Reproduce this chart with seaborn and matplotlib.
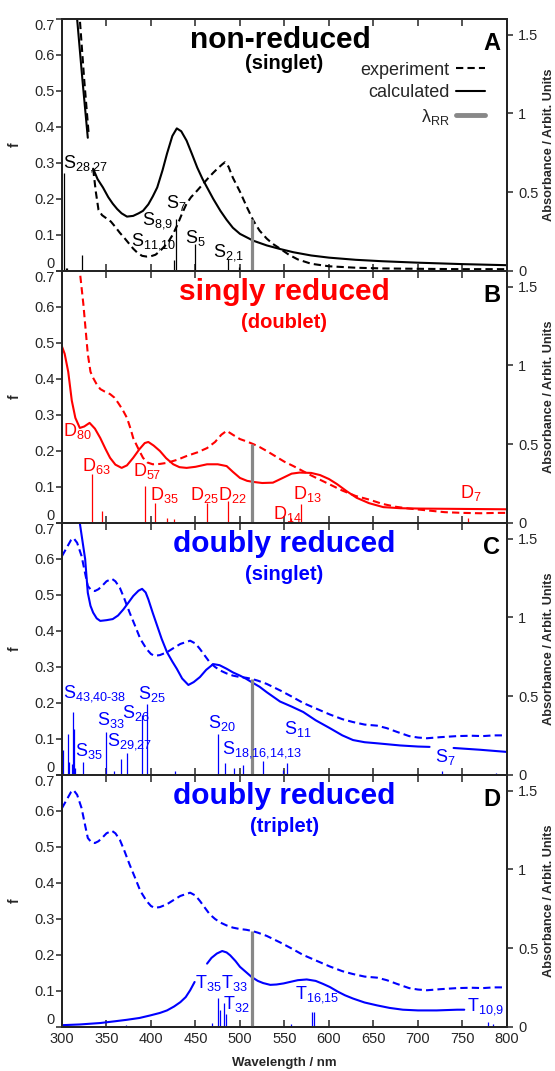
import numpy as np
import pandas as pd
import seaborn as sns
import matplotlib.pyplot as plt
from matplotlib.lines import Line2D

nan = np.nan

# ---------------- panel A : non-reduced (singlet) ----------------
a_exp_wl = [315, 320, 325, 330, nan, 335, 338, 341, 345, 350, 355, 360, 365, 370, 375, 380, 385, 390,
            395, 400, 405, 410, 415, 420, 425, 430, 435, 440, 445, 450, 455, 460, 465, 470, 475, 480,
            483, 487, 492, 500, 508, 515, 522, 530, 537, 545, 555, 565, 580, 600, 630, 660, 700, 750, 800]
a_exp_f = [0.85, 0.70, 0.53, 0.38, nan, 0.284, 0.22, 0.17, 0.155, 0.146, 0.137, 0.122, 0.106, 0.092,
           0.077, 0.062, 0.05, 0.042, 0.04, 0.041, 0.045, 0.055, 0.068, 0.083, 0.103, 0.13, 0.16, 0.187,
           0.205, 0.218, 0.232, 0.246, 0.26, 0.273, 0.285, 0.296, 0.302, 0.29, 0.259, 0.22, 0.176, 0.14,
           0.112, 0.09, 0.075, 0.062, 0.045, 0.032, 0.02, 0.013, 0.009, 0.007, 0.006, 0.005, 0.005]
a_calc_wl = [312, 317, 323, 329, nan, 335, 340, 346, 352, 357, 362, 367, 373, 380, 386, 391, 397, 402,
             407, 413, 418, 424, 429, 434, 440, 446, 452, 458, 463, 470, 478, 485, 492, 500, 515, 530,
             545, 560, 580, 600, 630, 660, 700, 750, 800]
a_calc_f = [0.85, 0.70, 0.53, 0.37, nan, 0.284, 0.255, 0.232, 0.205, 0.187, 0.172, 0.16, 0.151, 0.153,
            0.16, 0.167, 0.185, 0.207, 0.232, 0.28, 0.326, 0.375, 0.396, 0.388, 0.362, 0.325, 0.287,
            0.255, 0.232, 0.2, 0.167, 0.142, 0.12, 0.103, 0.084, 0.071, 0.061, 0.052, 0.043, 0.037,
            0.031, 0.027, 0.023, 0.019, 0.016]
a_stick_wl = [302, 304, 306, 323, 426, 428, 449, 487, 499]
a_stick_f = [0.273, 0.008, 0.008, 0.045, 0.03, 0.145, 0.075, 0.033, 0.01]
a_labels = [('S$_{28{,}27}$', 301, 0.298), ('S$_{7}$', 417, 0.19), ('S$_{8{,}9}$', 390, 0.14),
            ('S$_{11{,}10}$', 378, 0.082), ('S$_{5}$', 438, 0.092), ('S$_{2{,}1}$', 470, 0.05)]

# ---------------- panel B : singly reduced (doublet) ----------------
b_exp_wl = [318, 320, 324, 329, 332, 335, 339, 343, 348, 354, 359, 363, 368, 373, 377, 380, 386, 391,
            396, 402, 410, 418, 430, 440, 452, 463, 472, 479, 485, 492, 500, 508, 515, 522, 530, 540,
            550, 560, 570, 580, 590, 600, 615, 630, 645, 660, 675, 690, 710, 730, 750, 770, 790, 800]
b_exp_f = [0.75, 0.70, 0.608, 0.469, 0.42, 0.403, 0.385, 0.372, 0.365, 0.358, 0.348, 0.334, 0.315,
           0.292, 0.262, 0.236, 0.205, 0.181, 0.168, 0.163, 0.164, 0.167, 0.176, 0.186, 0.196, 0.208,
           0.225, 0.245, 0.256, 0.245, 0.233, 0.226, 0.219, 0.211, 0.2, 0.185, 0.17, 0.158, 0.145,
           0.132, 0.12, 0.108, 0.09, 0.075, 0.065, 0.053, 0.045, 0.04, 0.035, 0.03, 0.028, 0.027,
           0.028, 0.028]
b_calc_wl = [300, 303, 307, 311, 315, 320, 325, 331, 337, 343, 349, 354, 360, 367, 373, 380, 387, 393,
             397, 403, 410, 417, 425, 432, 440, 450, 463, 475, 485, 492, 500, 508, 515, 525, 537, 548,
             558, 567, 580, 590, 600, 609, 620, 631, 645, 661, 680, 702, 750, 800]
b_calc_f = [0.49, 0.47, 0.42, 0.34, 0.292, 0.264, 0.268, 0.278, 0.262, 0.236, 0.205, 0.181, 0.162,
            0.153, 0.16, 0.181, 0.205, 0.222, 0.225, 0.215, 0.2, 0.18, 0.163, 0.155, 0.153, 0.156,
            0.163, 0.163, 0.158, 0.142, 0.125, 0.117, 0.114, 0.111, 0.112, 0.125, 0.137, 0.14, 0.139,
            0.133, 0.122, 0.108, 0.088, 0.07, 0.055, 0.044, 0.041, 0.04, 0.039, 0.038]
b_stick_wl = [334, 345, 393, 405, 418, 426, 463, 487, 557, 568, 756]
b_stick_f = [0.136, 0.033, 0.103, 0.055, 0.013, 0.01, 0.056, 0.061, 0.015, 0.052, 0.015]
b_labels = [('D$_{80}$', 301, 0.256), ('D$_{63}$', 322, 0.158), ('D$_{57}$', 380, 0.143),
            ('D$_{35}$', 399, 0.078), ('D$_{25}$', 444, 0.078), ('D$_{22}$', 475, 0.078),
            ('D$_{14}$', 537, 0.025), ('D$_{13}$', 560, 0.08), ('D$_{7}$', 747, 0.083)]

# ---------------- panels C, D : doubly reduced, one measured spectrum ----------------
cd_exp_wl = [300, 305, 310, 313, 317, 322, 326, 329, 333, 337, 341, 345, 350, 356, 360, 365, 370, 376,
             382, 388, 395, 400, 404, 410, 418, 425, 433, 444, 450, 455, 460, 466, 472, 478, 485, 492,
             500, 507, 513, 520, 530, 545, 558, 571, 585, 601, 615, 627, 640, 654, 665, 676, 690, 700,
             710, 725, 744, 760, 773, 785, 800]
cd_exp_f = [0.608, 0.63, 0.652, 0.658, 0.645, 0.608, 0.56, 0.525, 0.513, 0.511, 0.516, 0.525, 0.538,
            0.545, 0.538, 0.52, 0.49, 0.451, 0.415, 0.378, 0.35, 0.336, 0.331, 0.333, 0.341, 0.352,
            0.364, 0.373, 0.365, 0.35, 0.333, 0.313, 0.3, 0.29, 0.282, 0.276, 0.272, 0.27, 0.267,
            0.262, 0.253, 0.235, 0.218, 0.2, 0.185, 0.168, 0.155, 0.147, 0.14, 0.137, 0.13, 0.12,
            0.108, 0.104, 0.102, 0.105, 0.108, 0.109, 0.108, 0.11, 0.11]

c_calc_wl = [316, 320, 323, 326, 329, 332, 335, 339, 343, 350, 357, 363, 369, 375, 380, 386, 390, 394,
             397, 402, 407, 412, 418, 424, 429, 435, 442, 448, 455, 462, 470, 477, 485, 492, 500, 507,
             513, 522, 530, 545, 558, 571, 585, 601, 615, 627, 640, 654, 680, 700, 713, nan, 740, 770,
             800]
c_calc_f = [0.8, 0.7, 0.65, 0.6, 0.506, 0.47, 0.451, 0.435, 0.428, 0.43, 0.433, 0.443, 0.46, 0.48,
            0.497, 0.512, 0.517, 0.507, 0.488, 0.45, 0.414, 0.378, 0.341, 0.315, 0.295, 0.268, 0.25,
            0.258, 0.272, 0.292, 0.308, 0.305, 0.295, 0.285, 0.276, 0.267, 0.258, 0.245, 0.23, 0.204,
            0.19, 0.175, 0.152, 0.13, 0.11, 0.097, 0.091, 0.088, 0.082, 0.079, 0.078, nan, 0.075,
            0.07, 0.064]
c_stick_wl = [301.5, 306.4, 307.9, 310.9, 312, 313.1, 314.6, 323.2, 349.4, 358.8, 365.9, 373, 390.3,
              395.1, 427, 475.7, 483.1, 493.6, 503.7, 526.2, 548.7, 553, 726.6, 788]
c_stick_f = [0.07, 0.113, 0.037, 0.03, 0.175, 0.129, 0.02, 0.035, 0.12, 0.01, 0.044, 0.06, 0.166,
             0.198, 0.01, 0.115, 0.034, 0.02, 0.028, 0.039, 0.014, 0.033, 0.01, 0.005]
c_labels = [('S$_{43{,}40\\text{-}38}$', 301, 0.226), ('S$_{35}$', 314.6, 0.066),
            ('S$_{33}$', 339, 0.152), ('S$_{29{,}27}$', 351, 0.094), ('S$_{26}$', 367, 0.173),
            ('S$_{25}$', 385, 0.226), ('S$_{20}$', 464, 0.145),
            ('S$_{18{,}16{,}14{,}13}$', 480, 0.072), ('S$_{11}$', 549, 0.127), ('S$_{7}$', 719, 0.05)]

d_calc_wl = [300, 320, 343, 360, 373, 387, 399, 410, 418, 426, 433, 439, 444, 449, nan, 463, 468, 474,
             480, 485, 489, 495, 500, 507, 513, 520, 526, 534, 541, 549, 556, 565, 575, 585, 593, 601,
             610, 618, 627, 640, 654, 668, 683, 700, 721, 744, 752]
d_calc_f = [0.005, 0.007, 0.011, 0.016, 0.02, 0.025, 0.032, 0.039, 0.046, 0.057, 0.069, 0.083, 0.102,
            0.125, nan, 0.176, 0.192, 0.204, 0.211, 0.207, 0.199, 0.183, 0.167, 0.152, 0.139, 0.128,
            0.122, 0.117, 0.118, 0.121, 0.125, 0.13, 0.132, 0.128, 0.12, 0.111, 0.098, 0.088, 0.079,
            0.068, 0.06, 0.053, 0.048, 0.046, 0.046, 0.048, 0.048]
d_stick_wl = [372, 468, 475.6, 477.5, 482, 484, 557, 580.5, 583, 779, 784]
d_stick_f = [0.005, 0.01, 0.081, 0.046, 0.067, 0.037, 0.008, 0.042, 0.042, 0.015, 0.008]
d_labels = [('T$_{35}$', 450, 0.123), ('T$_{33}$', 479, 0.123), ('T$_{32}$', 481, 0.063),
            ('T$_{16{,}15}$', 562, 0.091), ('T$_{10{,}9}$', 755, 0.056)]

titles = ['non-reduced', 'singly reduced', 'doubly reduced', 'doubly reduced']
subtitles = ['(singlet)', '(doublet)', '(singlet)', '(triplet)']
letters = ['A', 'B', 'C', 'D']
colors = ['black', '#ff0000', '#0000ff', '#0000ff']
lambda_rr = 514

wl_ticks = [300, 350, 400, 450, 500, 550, 600, 650, 700, 750, 800]
f_ticks = [0, 0.1, 0.2, 0.3, 0.4, 0.5, 0.6, 0.7]
f_ticklabels = ['0', '0.1', '0.2', '0.3', '0.4', '0.5', '0.6', '0.7']
abs_ticks = [0, 0.5, 1, 1.5]
abs_ticklabels = ['0', '0.5', '1', '1.5']

panels = [
    (a_exp_wl, a_exp_f, a_calc_wl, a_calc_f, a_stick_wl, a_stick_f, a_labels),
    (b_exp_wl, b_exp_f, b_calc_wl, b_calc_f, b_stick_wl, b_stick_f, b_labels),
    (cd_exp_wl, cd_exp_f, c_calc_wl, c_calc_f, c_stick_wl, c_stick_f, c_labels),
    (cd_exp_wl, cd_exp_f, d_calc_wl, d_calc_f, d_stick_wl, d_stick_f, d_labels),
]

sns.set_style('ticks')
plt.rcParams['font.family'] = ['Liberation Sans', 'DejaVu Sans']
plt.rcParams['mathtext.fontset'] = 'custom'
plt.rcParams['mathtext.rm'] = 'Liberation Sans'
plt.rcParams['mathtext.it'] = 'Liberation Sans:italic'
plt.rcParams['mathtext.bf'] = 'Liberation Sans:bold'
plt.rcParams['mathtext.default'] = 'regular'

DASH = (0, (3.5, 2))


def curve(ax, wl, f, color, ls):
    # split at NaN so gaps in the spectrum stay gaps
    df = pd.DataFrame({'wl': wl, 'f': f})
    df['seg'] = df['f'].isna().cumsum()
    df = df.dropna()
    for _, seg in df.groupby('seg'):
        sns.lineplot(data=seg, x='wl', y='f', ax=ax, color=color, lw=1.5,
                     linestyle=ls, sort=False, estimator=None)


fig, axes = plt.subplots(4, 1, figsize=(5.55, 10.71), dpi=100, sharex=True)
fig.subplots_adjust(left=0.1117, right=0.9135, top=0.9823, bottom=0.0411, hspace=0)

for i, ax in enumerate(axes):
    exp_wl, exp_f, calc_wl, calc_f, st_wl, st_f, labels = panels[i]
    col = colors[i]

    curve(ax, exp_wl, exp_f, col, DASH)
    curve(ax, calc_wl, calc_f, col, '-')
    ax.vlines(st_wl, 0, st_f, color=col, lw=0.9)

    ok = ~np.isnan(np.array(exp_f))
    rr_top = np.interp(lambda_rr, np.array(exp_wl)[ok], np.array(exp_f)[ok])
    ax.vlines(lambda_rr, 0, rr_top, color='#888888', lw=2.3, zorder=3)

    for txt, x, y in labels:
        ax.text(x, y, txt, color=col, fontsize=13, ha='left', va='center')

    ax.text(0.49 if i == 0 else 0.5, 0.885, titles[i], transform=ax.transAxes, ha='center',
            va='baseline', fontsize=21.5, fontweight='bold', color=col)
    ax.text(0.5, 0.80 if i == 0 else 0.775, subtitles[i], transform=ax.transAxes, ha='center',
            va='baseline', fontsize=14.5, fontweight='bold', color=col)
    ax.text(0.985, 0.875, letters[i], transform=ax.transAxes, ha='right', va='baseline',
            fontsize=17, fontweight='bold', color='black')

    ax.set_xlim(300, 800)
    ax.set_ylim(0, 0.7)
    ax.set_xticks(wl_ticks)
    ax.set_yticks(f_ticks)
    ax.set_yticklabels(f_ticklabels)
    # keep the end labels of stacked panels apart
    ylabs = ax.get_yticklabels()
    ylabs[0].set_va('bottom')
    ylabs[-1].set_va('top')
    ax.set_ylabel('f', fontsize=10, fontweight='bold', labelpad=9)
    ax.set_xlabel('')
    ax.tick_params(axis='x', direction='in', top=True, bottom=True, length=5, width=1.1,
                   labelsize=10.5)
    ax.tick_params(axis='y', direction='out', length=4, width=1.1, labelsize=10.5, pad=1)
    for s in ax.spines.values():
        s.set_visible(True)
        s.set_linewidth(1.3)
        s.set_color('black')

    ax2 = ax.twinx()
    ax2.set_ylim(0, 1.6)
    ax2.set_yticks(abs_ticks)
    ax2.set_yticklabels(abs_ticklabels)
    ax2.tick_params(axis='y', direction='out', length=4, width=1.1, labelsize=10.5, pad=4)
    ax2.set_ylabel('Absorbance / Arbit. Units', fontsize=9.2, fontweight='bold', labelpad=3)
    for s in ax2.spines.values():
        s.set_linewidth(1.3)

    if i == 0:
        handles = [Line2D([], [], color='black', lw=1.5, linestyle=DASH),
                   Line2D([], [], color='black', lw=1.5),
                   Line2D([], [], color='#888888', lw=3.5)]
        ax2.legend(handles, ['experiment', 'calculated', r'$\lambda_{RR}$'], loc='upper right',
                   bbox_to_anchor=(0.95, 0.83), frameon=False, markerfirst=False, fontsize=13,
                   handlelength=1.6, handletextpad=0.35, labelspacing=0.3, borderpad=0,
                   borderaxespad=0)

axes[-1].set_xlabel('Wavelength / nm', fontsize=9.5, fontweight='bold', labelpad=8)

fig.savefig('out.png', dpi=100)
